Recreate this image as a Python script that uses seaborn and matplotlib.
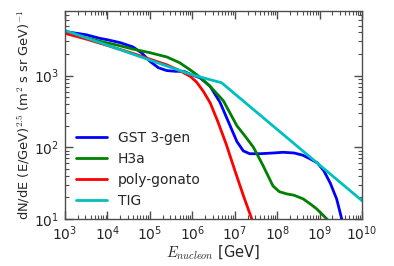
import numpy as np
import pandas as pd
import matplotlib
matplotlib.use("Agg")
import matplotlib.pyplot as plt
from matplotlib.ticker import LogLocator, NullFormatter
import seaborn as sns

# values, as log10(E / GeV) and log10(flux)
gst_loge = [3.0, 3.5, 3.82, 4.0, 4.3, 4.6, 4.8, 5.0, 5.2, 5.4, 5.6, 5.8, 5.95,
            6.18, 6.42, 6.65, 6.89, 7.05, 7.2, 7.35, 7.6, 7.9, 8.14, 8.4, 8.6,
            8.8, 8.95, 9.1, 9.25, 9.4, 9.52, 9.6]
gst_logf = [3.615, 3.57, 3.52, 3.50, 3.46, 3.40, 3.32, 3.20, 3.11, 3.07, 3.06,
            3.06, 3.02, 2.97, 2.85, 2.63, 2.30, 2.08, 1.95, 1.91, 1.91, 1.92,
            1.93, 1.92, 1.89, 1.83, 1.78, 1.67, 1.50, 1.28, 1.0, 0.85]

h3a_loge = [3.0, 3.5, 3.82, 4.2, 4.6, 5.0, 5.4, 5.7, 5.95, 6.2, 6.42, 6.73,
            7.05, 7.25, 7.44, 7.67, 7.9, 8.05, 8.22, 8.4, 8.61, 8.8, 8.93,
            9.1, 9.2]
h3a_logf = [3.60, 3.53, 3.48, 3.43, 3.37, 3.32, 3.26, 3.18, 3.08, 2.97, 2.85,
            2.65, 2.30, 2.15, 2.0, 1.74, 1.46, 1.38, 1.35, 1.33, 1.28, 1.20,
            1.14, 1.04, 0.98]

pg_loge = [3.0, 3.5, 4.0, 4.6, 5.0, 5.4, 5.7, 5.95, 6.1, 6.26, 6.42, 6.6, 6.8,
           7.0, 7.2, 7.4, 7.5]
pg_logf = [3.59, 3.51, 3.42, 3.31, 3.23, 3.15, 3.07, 2.99, 2.91, 2.78, 2.62,
           2.36, 2.04, 1.68, 1.33, 1.0, 0.85]

tig_loge = [3.0, 6.0, 6.69, 10.0]
tig_logf = [3.63, 3.01, 2.90, 1.254]

models = ["GST 3-gen", "H3a", "poly-gonato", "TIG"]
colors = ["b", "g", "r", "c"]

frames = []
for name, le, lf in zip(models, [gst_loge, h3a_loge, pg_loge, tig_loge],
                        [gst_logf, h3a_logf, pg_logf, tig_logf]):
    frames.append(pd.DataFrame({"model": name,
                                "E": 10 ** np.array(le),
                                "flux": 10 ** np.array(lf)}))
df = pd.concat(frames, ignore_index=True)

sns.set_style("ticks")
plt.rcParams.update({
    "font.family": ["DejaVu Sans"],
    "mathtext.fontset": "cm",
    "font.size": 10,
    "axes.edgecolor": "0.3",
    "axes.linewidth": 1.0,
})

fig = plt.figure(figsize=(3.94, 2.66), dpi=100)
ax = fig.add_axes([0.165, 0.177, 0.754, 0.782])

sns.lineplot(data=df, x="E", y="flux", hue="model", hue_order=models,
             palette=colors, linewidth=2, sort=False, estimator=None, ax=ax)

ax.set_xscale("log")
ax.set_yscale("log")
ax.set_xlim(1e3, 1e10)
ax.set_ylim(10, 10 ** 3.903)
ax.xaxis.set_major_locator(LogLocator(base=10, numticks=20))
ax.xaxis.set_minor_locator(LogLocator(base=10, subs=np.arange(2, 10), numticks=100))
ax.yaxis.set_minor_locator(LogLocator(base=10, subs=np.arange(2, 10), numticks=100))
ax.xaxis.set_minor_formatter(NullFormatter())
ax.yaxis.set_minor_formatter(NullFormatter())
ax.tick_params(which="both", direction="in", top=True, right=True,
               color="0.3", labelsize=10)
ax.tick_params(which="major", length=6, width=1, pad=4)
ax.tick_params(which="minor", length=3, width=0.8)

ax.set_xlabel(r"$E_{nucleon}$ [GeV]", fontsize=10.5, labelpad=0)
ax.set_ylabel(r"dN/dE (E/GeV)$^{2.5}$ (m$^2$ s sr GeV)$^{-1}$", fontsize=9.4,
              labelpad=2)

leg = ax.legend(loc="lower left", frameon=False, fontsize=10,
                handlelength=2.2, labelspacing=0.5, borderaxespad=0.4)
leg.set_title(None)

fig.savefig("out.png", dpi=100)
